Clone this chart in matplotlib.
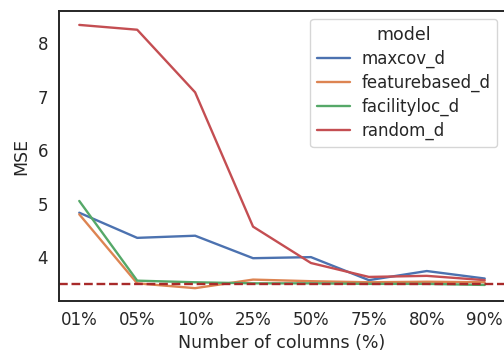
import matplotlib
matplotlib.use("Agg")
import matplotlib.pyplot as plt
import seaborn as sns

columns = ["01%", "05%", "10%", "25%", "50%", "75%", "80%", "90%"]
maxcov_d = [4.83, 4.36, 4.40, 3.98, 4.00, 3.57, 3.74, 3.60]
featurebased_d = [4.80, 3.51, 3.42, 3.58, 3.55, 3.53, 3.54, 3.53]
facilityloc_d = [5.05, 3.56, 3.53, 3.51, 3.51, 3.50, 3.50, 3.48]
random_d = [8.34, 8.25, 7.08, 4.57, 3.89, 3.63, 3.65, 3.57]
baseline = 3.50

sns.set_theme(style="white")
palette = sns.color_palette("deep")

fig = plt.figure(figsize=(5.04, 3.5), dpi=100)
ax = fig.add_axes([59 / 504, 49 / 350, 446 / 504, 290 / 350])

ax.plot(columns, maxcov_d, color=palette[0], lw=1.7, label="maxcov_d")
ax.plot(columns, featurebased_d, color=palette[1], lw=1.7, label="featurebased_d")
ax.plot(columns, facilityloc_d, color=palette[2], lw=1.7, label="facilityloc_d")
ax.plot(columns, random_d, color=palette[3], lw=1.7, label="random_d")
ax.axhline(baseline, color="#a82a2a", ls="--", lw=1.7)

ax.set_ylim(3.18, 8.6)
ax.set_yticks([4, 5, 6, 7, 8])
ax.tick_params(axis="x", labelsize=12, length=0, pad=7)
ax.tick_params(axis="y", labelsize=12, length=0, pad=8)
ax.set_xlabel("Number of columns (%)", fontsize=12.5, labelpad=4)
ax.set_ylabel("MSE", fontsize=12.5, labelpad=5)
for sp in ax.spines.values():
    sp.set_linewidth(1.4)
leg = ax.legend(title="model", loc="upper right", bbox_to_anchor=(0.982, 0.972),
                borderaxespad=0, fontsize=12, title_fontsize=12.5,
                labelspacing=0.35, handletextpad=0.65)

fig.savefig("out.png", dpi=100)
